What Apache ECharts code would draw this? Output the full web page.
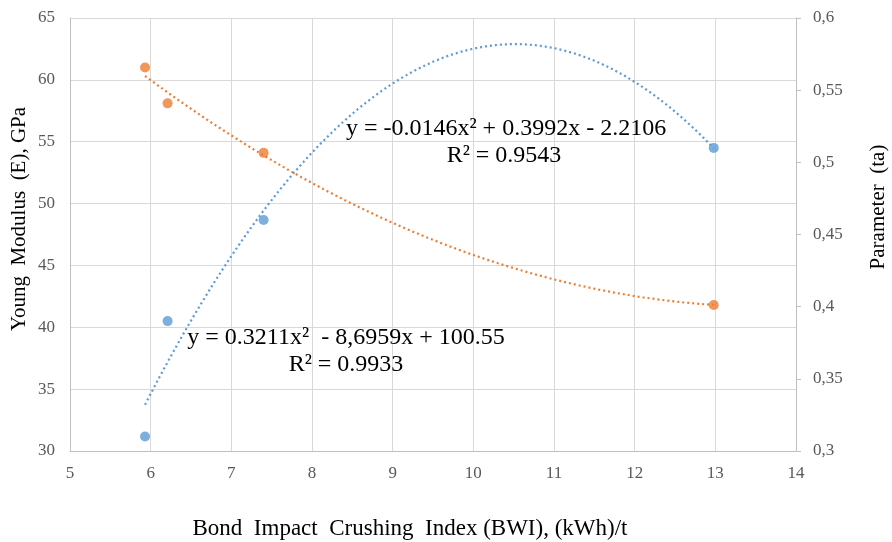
<!DOCTYPE html>
<html>
<head>
<meta charset="utf-8">
<script src="https://cdn.jsdelivr.net/npm/echarts@6/dist/echarts.min.js"></script>
<style>
html,body{margin:0;padding:0;background:#fff;}
#chart{width:892px;height:542px;}
</style>
</head>
<body>
<div id="chart"></div>
<script>
// Data
const bwi = [5.93, 6.21, 7.40, 12.98];
const youngModulus = [61.0, 58.1, 54.1, 41.8];
const taParam = [0.31, 0.39, 0.46, 0.51];

const xRange = [5, 14, 1];
const yLeftRange = [30, 65, 5];
const yRightRange = [0.3, 0.6, 0.05];

const eqTa = ['y = -0.0146x² + 0.3992x - 2.2106', 'R² = 0.9543'];
const eqE = ['y = 0.3211x²  - 8,6959x + 100.55', 'R² = 0.9933'];

const xTitle = 'Bond  Impact  Crushing  Index (BWI), (kWh)/t';
const yLeftTitle = 'Young  Modulus  (E), GPa';
const yRightTitle = 'Parameter  (ta)';

// Least-squares quadratic trendline (like a spreadsheet's polynomial trendline, order 2)
function quadFit(xs, ys) {
  let S = [0,0,0,0,0], T = [0,0,0];
  for (let i = 0; i < xs.length; i++) {
    let p = 1;
    for (let k = 0; k < 5; k++) { S[k] += p; if (k < 3) T[k] += p * ys[i]; p *= xs[i]; }
  }
  const M = [[S[0],S[1],S[2],T[0]],[S[1],S[2],S[3],T[1]],[S[2],S[3],S[4],T[2]]];
  for (let c = 0; c < 3; c++) {
    let piv = c;
    for (let r = c+1; r < 3; r++) if (Math.abs(M[r][c]) > Math.abs(M[piv][c])) piv = r;
    [M[c], M[piv]] = [M[piv], M[c]];
    for (let r = 0; r < 3; r++) if (r !== c) {
      const f = M[r][c] / M[c][c];
      for (let k = c; k < 4; k++) M[r][k] -= f * M[c][k];
    }
  }
  return [M[0][3]/M[0][0], M[1][3]/M[1][1], M[2][3]/M[2][2]]; // c0, c1, c2
}
function trend(xs, ys) {
  const c = quadFit(xs, ys);
  const x0 = Math.min(...xs), x1 = Math.max(...xs);
  const out = [];
  const n = 120;
  for (let i = 0; i <= n; i++) {
    const x = x0 + (x1 - x0) * i / n;
    out.push([x, c[0] + c[1]*x + c[2]*x*x]);
  }
  return out;
}

const ORANGE = '#ED7D31', BLUE = '#5B9BD5';
const SERIF = '"Liberation Serif", "Times New Roman", serif';
const labelStyle = {color: '#595959', fontFamily: SERIF, fontSize: 17};

const chart = echarts.init(document.getElementById('chart'));
chart.setOption({
  animation: false,
  backgroundColor: '#fff',
  grid: {left: 70, right: 96, top: 18, bottom: 91, containLabel: false},
  xAxis: {
    type: 'value', min: xRange[0], max: xRange[1], interval: xRange[2],
    axisLine: {show: true, lineStyle: {color: '#BFBFBF', width: 1}},
    axisTick: {show: false},
    axisLabel: Object.assign({margin: 14}, labelStyle),
    splitLine: {show: true, lineStyle: {color: '#D9D9D9', width: 1}}
  },
  yAxis: [{
    type: 'value', min: yLeftRange[0], max: yLeftRange[1], interval: yLeftRange[2],
    axisLine: {show: true, lineStyle: {color: '#BFBFBF', width: 1}},
    axisTick: {show: false},
    axisLabel: Object.assign({margin: 15}, labelStyle),
    splitLine: {show: true, lineStyle: {color: '#D9D9D9', width: 1}}
  }, {
    type: 'value', position: 'right', min: yRightRange[0], max: yRightRange[1], interval: yRightRange[2],
    axisLine: {show: true, lineStyle: {color: '#BFBFBF', width: 1}},
    axisTick: {show: true, length: 5, lineStyle: {color: '#BFBFBF'}},
    axisLabel: Object.assign({margin: 17, formatter: v => String(Math.round(v*100)/100).replace('.', ',')}, labelStyle),
    splitLine: {show: false}
  }],
  series: [{
    name: 'E trend', type: 'line', yAxisIndex: 0, data: trend(bwi, youngModulus),
    showSymbol: false, symbol: 'none', silent: true, z: 2,
    lineStyle: {color: ORANGE, width: 2.2, type: [2, 3], cap: 'butt'}
  }, {
    name: 'ta trend', type: 'line', yAxisIndex: 1, data: trend(bwi, taParam),
    showSymbol: false, symbol: 'none', silent: true, z: 2,
    lineStyle: {color: BLUE, width: 2.2, type: [2, 3], cap: 'butt'}
  }, {
    name: 'E', type: 'scatter', yAxisIndex: 0, z: 3,
    data: bwi.map((x, i) => [x, youngModulus[i]]),
    symbol: 'circle', symbolSize: 10, itemStyle: {color: ORANGE}
  }, {
    name: 'ta', type: 'scatter', yAxisIndex: 1, z: 3,
    data: bwi.map((x, i) => [x, taParam[i]]),
    symbol: 'circle', symbolSize: 10, itemStyle: {color: BLUE}
  }],
  graphic: [
    {type: 'text', x: 506, y: 129, z: 10, style: {text: eqTa[0], fontFamily: SERIF, fontSize: 24, fill: '#000', align: 'center', verticalAlign: 'middle'}},
    {type: 'text', x: 504, y: 156, z: 10, style: {text: eqTa[1], fontFamily: SERIF, fontSize: 24, fill: '#000', align: 'center', verticalAlign: 'middle'}},
    {type: 'text', x: 346, y: 338, z: 10, style: {text: eqE[0], fontFamily: SERIF, fontSize: 24, fill: '#000', align: 'center', verticalAlign: 'middle'}},
    {type: 'text', x: 346, y: 365, z: 10, style: {text: eqE[1], fontFamily: SERIF, fontSize: 24, fill: '#000', align: 'center', verticalAlign: 'middle'}},
    {type: 'text', x: 410, y: 529, style: {text: xTitle, fontFamily: SERIF, fontSize: 23, fill: '#000', align: 'center', verticalAlign: 'middle'}},
    {type: 'text', x: 19, y: 219, rotation: Math.PI/2, style: {text: yLeftTitle, fontFamily: SERIF, fontSize: 21, fill: '#000', align: 'center', verticalAlign: 'middle'}},
    {type: 'text', x: 878, y: 207, rotation: Math.PI/2, style: {text: yRightTitle, fontFamily: SERIF, fontSize: 21, fill: '#000', align: 'center', verticalAlign: 'middle'}}
  ]
});
</script>
</body>
</html>
